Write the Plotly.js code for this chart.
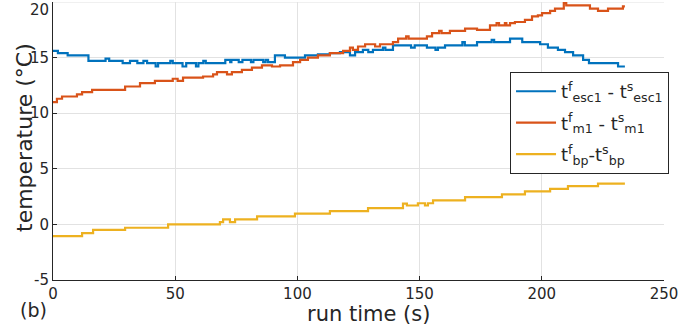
<!DOCTYPE html>
<html>
<head>
<meta charset="utf-8">
<script src="https://cdn.plot.ly/plotly-3.0.1.min.js"></script>
<style>html,body{margin:0;padding:0;background:#fff;}#chart{width:696px;height:333px;}</style>
</head>
<body>
<div id="chart"></div>
<script>
// Step-change times (s) and values (°C)
const escT = [0, 2, 6, 14.5, 21.5, 23, 28.5, 31.5, 34.5, 37, 38.5, 42, 43, 48, 49, 53, 54.5, 58.5, 59.5, 61.5, 62.5, 66, 70.5, 72.5, 73, 76, 77.5, 81, 82, 86, 87, 88, 90.8, 94.9, 103.1, 108.4, 113.3, 117.4, 121.5, 123.6, 126.8, 129, 130.9, 135, 136, 139.1, 146.5, 148, 153, 156.5, 157.5, 160.4, 167.5, 168.5, 173.5, 179.5, 180.5, 187, 192, 199.3, 202.5, 206.6, 209.5, 212.8, 216.9, 219.3, 231.2, 234];
const escV = [15.6, 15.4, 15.2, 14.7, 14.9, 14.7, 14.5, 14.7, 14.5, 14.7, 14.5, 14.2, 14.5, 14.7, 14.5, 14.2, 14.5, 14.2, 14.5, 14.7, 14.5, 14.5, 14.8, 14.6, 14.8, 14.6, 14.8, 14.6, 14.8, 14.6, 14.8, 14.6, 15.2, 15.0, 15.2, 15.3, 15.4, 15.5, 15.2, 15.5, 15.7, 15.5, 15.7, 15.9, 15.7, 16.1, 15.9, 16.1, 15.9, 15.7, 15.9, 16.1, 16.4, 16.1, 16.4, 16.6, 16.4, 16.7, 16.4, 16.2, 15.9, 15.7, 15.5, 15.2, 14.8, 14.5, 14.2, 14.2];

const m1T = [0, 1.6, 3.7, 9.8, 11.9, 16, 29.5, 35.6, 41.7, 49, 51, 53.2, 61.4, 65.5, 67.1, 71.2, 73.2, 77.3, 81.4, 85.5, 89.6, 92.9, 98.2, 101.1, 104.3, 108.4, 113.3, 118.7, 121.5, 122.7, 124.8, 127.7, 131.8, 133.8, 139.1, 141.2, 144.5, 145.5, 153, 155.1, 158, 159, 162.4, 168.6, 173.5, 178.8, 181.5, 182.5, 184.9, 185.5, 187, 189, 193.1, 196, 198.4, 200.1, 203.4, 205.4, 209, 210, 219.7, 223, 227.1, 233.2, 234];
const m1V = [11.0, 11.3, 11.5, 11.7, 11.9, 12.1, 12.4, 12.7, 12.9, 13.1, 12.9, 13.2, 13.3, 13.5, 13.7, 13.5, 13.7, 13.9, 14.1, 14.3, 14.2, 14.3, 14.6, 14.8, 15.0, 15.2, 15.4, 15.6, 15.9, 15.7, 16.0, 16.2, 16.0, 16.2, 16.4, 16.7, 16.9, 16.7, 16.9, 17.2, 17.4, 17.2, 17.4, 17.6, 17.5, 17.9, 18.1, 17.9, 18.1, 17.9, 18.1, 18.2, 18.4, 18.7, 18.8, 19.0, 19.2, 19.4, 19.9, 19.7, 19.4, 19.2, 19.4, 19.6, 19.6];

const bpT = [0, 11.9, 16.4, 29.5, 47.1, 68.3, 69.6, 72.4, 74.5, 83.5, 99, 113.3, 128.9, 143.2, 144.8, 149.3, 152.2, 153.4, 155.5, 168.6, 183.7, 193.1, 203.4, 210.7, 223, 234];
const bpV = [-1.05, -0.78, -0.5, -0.3, 0.0, 0.2, 0.45, 0.2, 0.45, 0.72, 0.96, 1.2, 1.47, 1.86, 1.7, 1.9, 1.7, 1.9, 2.16, 2.46, 2.7, 2.97, 3.2, 3.45, 3.67, 3.67];

const seriesNames = [
  't<sup>f</sup><sub>esc1</sub> - t<sup>s</sup><sub>esc1</sub>',
  't<sup>f</sup><sub>m1</sub> - t<sup>s</sup><sub>m1</sub>',
  't<sup>f</sup><sub>bp</sub>-t<sup>s</sup><sub>bp</sub>'
];
const seriesColors = ['#0072BD', '#D95319', '#EDB120'];

const xTicks = [0, 50, 100, 150, 200, 250];
const yTicks = [-5, 0, 5, 10, 15, 20];
const yTickText = ['-5', '0', '5', '10', '15', ''];   // top label "20" drawn as annotation (it sits below its tick in the reference)
const yTopLabel = '20';

const FONT = 'DejaVu Sans, sans-serif';
const INK = '#262626';

const data = [[escT, escV], [m1T, m1V], [bpT, bpV]].map((s, i) => ({
  x: s[0], y: s[1], type: 'scatter', mode: 'lines',
  line: {shape: 'hv', color: seriesColors[i], width: 2.2},
  name: seriesNames[i], legendgroup: 'g' + i
}));

const layout = {
  width: 696, height: 333,
  margin: {l: 53, r: 32, t: 2, b: 53},
  paper_bgcolor: '#fff', plot_bgcolor: '#fff',
  font: {family: FONT, color: INK, size: 15},
  showlegend: true,
  legend: {
    x: 0.748, y: 0.748, xanchor: 'left', yanchor: 'top',
    bgcolor: '#fff', bordercolor: INK, borderwidth: 1,
    font: {family: FONT, size: 18, color: INK},
    itemwidth: 40, tracegroupgap: 5, traceorder: 'grouped'
  },
  xaxis: {
    range: [0, 250], tickvals: xTicks, showgrid: true, gridcolor: '#e2e2e2',
    zeroline: false, showline: true, linecolor: INK, linewidth: 1,
    ticks: 'inside', ticklen: 4, tickcolor: INK,
    tickfont: {family: FONT, size: 15, color: INK}
  },
  yaxis: {
    range: [-5, 20], tickvals: yTicks, ticktext: yTickText, showgrid: true, gridcolor: '#e2e2e2',
    zeroline: false, showline: true, linecolor: INK, linewidth: 1,
    ticks: 'inside', ticklen: 4, tickcolor: INK,
    tickfont: {family: FONT, size: 15, color: INK}
  },
  shapes: [
    {type: 'line', xref: 'paper', yref: 'y', x0: 0, x1: 1, y0: yTicks[yTicks.length - 1], y1: yTicks[yTicks.length - 1],
     line: {color: '#e2e2e2', width: 1}, layer: 'below'}
  ],
  annotations: [
    {text: yTopLabel, xref: 'paper', yref: 'paper', x: (51 - 53) / 611, y: (280 - 9.5) / 278,
     xanchor: 'right', yanchor: 'middle', showarrow: false, font: {family: FONT, size: 15, color: INK}},
    {text: 'run time (s)', xref: 'paper', yref: 'paper', x: (368 - 53) / 611, y: (280 - 314) / 278,
     xanchor: 'center', yanchor: 'middle', showarrow: false, font: {family: FONT, size: 21, color: INK}},
    {text: 'temperature (°C)', xref: 'paper', yref: 'paper', x: (24 - 53) / 611, y: (280 - 138) / 278,
     xanchor: 'center', yanchor: 'middle', showarrow: false, textangle: -90, font: {family: FONT, size: 22, color: INK}},
    {text: '(b)', xref: 'paper', yref: 'paper', x: (33 - 53) / 611, y: (280 - 310) / 278,
     xanchor: 'center', yanchor: 'middle', showarrow: false, font: {family: FONT, size: 19, color: INK}}
  ]
};

Plotly.newPlot('chart', data, layout, {displayModeBar: false, staticPlot: true});
</script>
</body>
</html>
